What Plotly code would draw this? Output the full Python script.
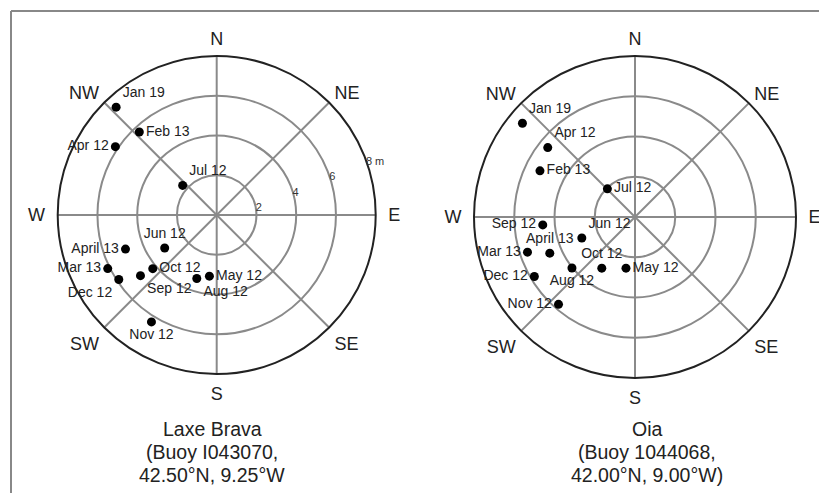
import plotly.graph_objects as go

# ---------------- data ----------------
months = ["Jan 19", "Feb 13", "Apr 12", "Jul 12", "April 13", "Jun 12", "Mar 13",
          "Dec 12", "Sep 12", "Oct 12", "Aug 12", "May 12", "Nov 12"]

laxe_height = [7.42, 5.71, 6.15, 2.27, 4.90, 3.10, 6.11, 5.90, 4.90, 4.20, 3.35, 3.10, 6.30]
laxe_dir = [317, 317, 304, 311, 249.5, 237.6, 243.8, 236.6, 231.5, 230, 197.4, 186.8, 211.4]

oia_months = ["Jan 19", "Apr 12", "Feb 13", "Jul 12", "Sep 12", "Jun 12", "Mar 13",
              "April 13", "Aug 12", "Oct 12", "May 12", "Dec 12", "Nov 12"]
oia_height = [7.28, 5.54, 5.25, 1.96, 4.60, 2.84, 5.62, 4.60, 4.03, 3.03, 2.58, 5.81, 5.77]
oia_dir = [309.8, 308.5, 295.9, 315.6, 265.1, 248.5, 251.9, 247, 231, 213, 190, 239.4, 221.2]

compass_angles = [0, 45, 90, 135, 180, 225, 270, 315]
compass_labels = ["N", "NE", "E", "SE", "S", "SW", "W", "NW"]
ring_vals = [2, 4, 6, 8]
ring_text = ["2", "4", "6", "8 m"]

laxe_title = ["Laxe Brava", "(Buoy I043070,", "42.50°N, 9.25°W"]
oia_title = ["Oia", "(Buoy 1044068,", "42.00°N, 9.00°W)"]

# ---------------- styling ----------------
laxe_textpos = {
    "Jan 19": "top right", "Feb 13": "middle right", "Apr 12": "middle left",
    "Jul 12": "top right", "April 13": "middle left", "Jun 12": "top center",
    "Mar 13": "middle left", "Dec 12": "bottom left", "Sep 12": "bottom right",
    "Oct 12": "middle right", "Aug 12": "bottom right", "May 12": "middle right",
    "Nov 12": "bottom center",
}
oia_textpos = {
    "Jan 19": "top right", "Apr 12": "top right", "Feb 13": "middle right",
    "Jul 12": "middle right", "Sep 12": "middle left", "Jun 12": "top right",
    "Mar 13": "middle left", "April 13": "top center", "Aug 12": "bottom center",
    "Oct 12": "top center", "May 12": "middle right", "Dec 12": "middle left",
    "Nov 12": "middle left",
}
NB = "\u00a0"
# nudge E / W compass labels a bit further from the circle
compass_pad = {"E": NB + "E", "W": "W" + NB}

FONT = "Liberation Sans, Arial, sans-serif"
OFF = 8                      # browser default body margin
W, H = 827 - OFF, 493 - OFF  # figure size so that page fits the window


def px(x):
    return (x - OFF) / W


def py(y):
    return 1 - (y - OFF) / H


fig = go.Figure()

fig.add_trace(go.Scatterpolar(
    r=laxe_height, theta=laxe_dir, mode="markers+text",
    text=months, textposition=[laxe_textpos[m] for m in months],
    marker=dict(size=9, color="black"),
    textfont=dict(size=14, color="#222", family=FONT),
    subplot="polar", showlegend=False, cliponaxis=False,
))
fig.add_trace(go.Scatterpolar(
    r=oia_height, theta=oia_dir, mode="markers+text",
    text=oia_months, textposition=[oia_textpos[m] for m in oia_months],
    marker=dict(size=9, color="black"),
    textfont=dict(size=14, color="#222", family=FONT),
    subplot="polar2", showlegend=False, cliponaxis=False,
))


def polar_cfg(x0, y0, x1, y1, show_radial_labels):
    return dict(
        domain=dict(x=[px(x0), px(x1)], y=[py(y1), py(y0)]),
        bgcolor="white",
        radialaxis=dict(
            range=[0, 8], tickvals=ring_vals, ticktext=ring_text,
            showticklabels=show_radial_labels, ticks="", showline=False,
            gridcolor="#8a8a8a", gridwidth=1.5, angle=22.5, side="clockwise",
            tickangle=22.5,
            tickfont=dict(size=11, color="#333", family=FONT),
        ),
        angularaxis=dict(
            rotation=90, direction="clockwise",
            tickmode="array", tickvals=compass_angles,
            ticktext=[compass_pad.get(t, t) for t in compass_labels],
            ticks="outside", ticklen=3, tickcolor="rgba(0,0,0,0)",
            showline=True, linecolor="#222", linewidth=2,
            gridcolor="#8a8a8a", gridwidth=1.5,
            tickfont=dict(size=18, color="#222", family=FONT),
        ),
    )


annotations = []
for lines, cx in ((laxe_title, 212), (oia_title, 647)):
    for i, line in enumerate(lines):
        annotations.append(dict(
            text=line, x=px(cx), y=py(429 + 23 * i), xref="paper", yref="paper",
            xanchor="center", yanchor="middle", showarrow=False,
            font=dict(size=19.5, color="#222", family=FONT)))

fig.update_layout(
    width=W, height=H, autosize=False,
    margin=dict(l=0, r=0, t=0, b=0),
    paper_bgcolor="white", plot_bgcolor="white",
    font=dict(family=FONT, color="#222"),
    polar=polar_cfg(57.7, 56, 375.7, 374, True),
    polar2=polar_cfg(474, 56, 796, 378, False),
    annotations=annotations,
    shapes=[
        dict(type="line", xref="paper", yref="paper", x0=px(11), y0=0, x1=px(11), y1=py(11),
             line=dict(color="#888", width=2)),
        dict(type="line", xref="paper", yref="paper", x0=px(11), y0=py(11), x1=1, y1=py(11),
             line=dict(color="#888", width=2)),
    ],
)

fig.write_html("out.html")
